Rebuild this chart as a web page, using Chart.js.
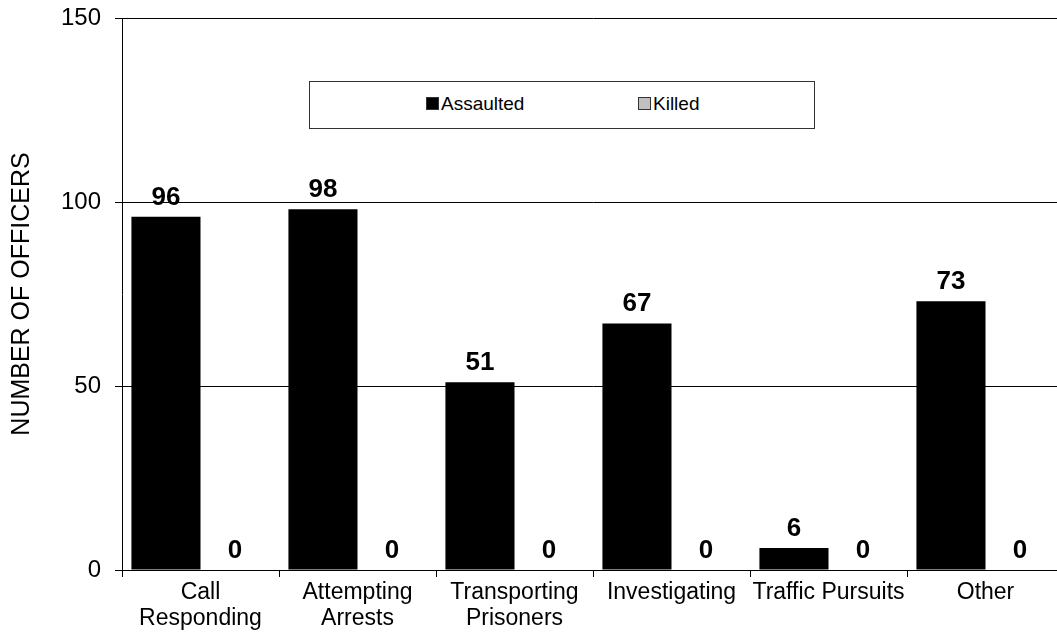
<!DOCTYPE html>
<html>
<head>
<meta charset="utf-8">
<script src="https://cdn.jsdelivr.net/npm/chart.js@4/dist/chart.umd.min.js"></script>
<style>
  body { margin: 0; overflow: hidden; background: #fff; }
  #wrap { position: relative; width: 1057px; height: 632px; overflow: hidden; }
  #legend {
    position: absolute; left: 309px; top: 81px; width: 504px; height: 46px;
    border: 1px solid #333; background: #fff;
    font-family: "Liberation Sans", Arial, sans-serif; font-size: 19px; color: #000;
  }
  .item { position: absolute; top: 11px; line-height: 22px; }
  .sw { display: inline-block; width: 11px; height: 11px; border: 1px solid #333; margin-right: 2px; vertical-align: 0px; }
</style>
</head>
<body>
<div id="wrap">
  <canvas id="grafico" width="1064" height="632"></canvas>
  <div id="legend">
    <span class="item" style="left:116px"><span class="sw" style="background:#000"></span>Assaulted</span>
    <span class="item" style="left:328px"><span class="sw" style="background:#c0c0c0"></span>Killed</span>
  </div>
</div>
<script>
// DADOS
const categorias = [
  ["Call", "Responding"],
  ["Attempting", "Arrests"],
  ["Transporting", "Prisoners"],
  "Investigating",
  "Traffic Pursuits",
  "Other",
];
const assaltados = [96, 98, 51, 67, 6, 73];
const mortos = [0, 0, 0, 0, 0, 0];
const ticksY = [0, 50, 100, 150];

const fonte = '"Liberation Sans", Arial, sans-serif';

// RÓTULOS EM CIMA DAS BARRAS
const rotulos = {
  id: "rotulos",
  afterDatasetsDraw(chart) {
    const ctx = chart.ctx;
    ctx.save();
    ctx.font = "bold 26px " + fonte;
    ctx.fillStyle = "#000";
    ctx.textAlign = "center";
    ctx.textBaseline = "alphabetic";
    chart.data.datasets.forEach((ds, i) => {
      chart.getDatasetMeta(i).data.forEach((bar, j) => {
        ctx.fillText(String(ds.data[j]), bar.x, bar.y - 12);
      });
    });
    ctx.restore();
  },
};

const grafico = new Chart(document.getElementById("grafico"), {
  type: "bar",
  data: {
    labels: categorias,
    datasets: [
      {
        label: "Assaulted",
        data: assaltados,
        backgroundColor: "#000",
        categoryPercentage: 0.88,
        barPercentage: 1,
      },
      {
        label: "Killed",
        data: mortos,
        backgroundColor: "#c0c0c0",
        borderColor: "#333",
        categoryPercentage: 0.88,
        barPercentage: 1,
      },
    ],
  },
  options: {
    responsive: false,
    animation: false,
    layout: { padding: { top: 18, left: 0, right: 0, bottom: 0 } },
    plugins: {
      legend: { display: false },
      tooltip: { enabled: false },
    },
    scales: {
      x: {
        afterFit: (s) => { s.height = 62; },
        border: { color: "#000", width: 1 },
        grid: {
          offset: true,
          drawOnChartArea: false,
          drawTicks: true,
          tickLength: 7,
          tickColor: "#000",
        },
        ticks: {
          color: "#000",
          font: { family: fonte, size: 23, lineHeight: 1.13 },
          padding: 3,
          maxRotation: 0,
          autoSkip: false,
        },
      },
      y: {
        min: 0,
        max: 150,
        afterFit: (s) => { s.width = 122; },
        afterBuildTicks: (s) => { s.ticks = ticksY.map((v) => ({ value: v })); },
        border: { color: "#000", width: 1 },
        grid: {
          color: "#000",
          tickLength: 7,
          tickColor: "#000",
        },
        ticks: {
          color: "#000",
          font: { family: fonte, size: 24, lineHeight: 0.3 },
          padding: 14,
        },
        title: {
          display: true,
          text: "NUMBER OF OFFICERS",
          color: "#000",
          font: { family: fonte, size: 25 },
          padding: { top: 7, bottom: 0 },
        },
      },
    },
  },
  plugins: [rotulos],
});
</script>
</body>
</html>
